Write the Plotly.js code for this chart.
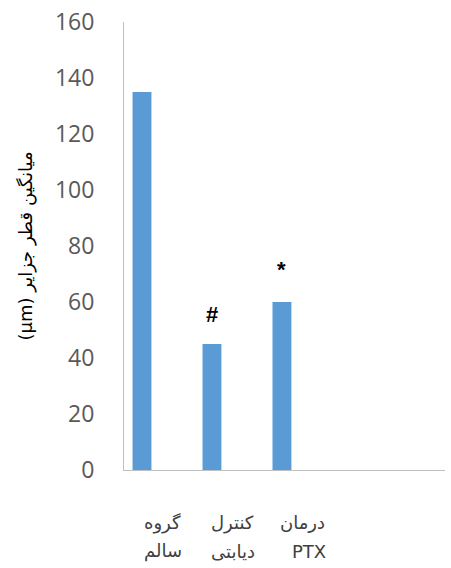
<!DOCTYPE html>
<html><head><meta charset="utf-8">
<script src="https://cdn.plot.ly/plotly-3.0.1.min.js"></script>
<style>html,body{margin:0;padding:0;background:#fff}#chart{width:451px;height:568px}</style>
</head><body><div id="chart"></div>
<script>
const categoryLine1 = ["گروه", "کنترل", "درمان"];
const categoryLine2 = ["سالم", "دیابتی", "PTX"];
const values = [135, 45, 60];
const marks = ["", "#", "*"];
const yTicks = [0, 20, 40, 60, 80, 100, 120, 140, 160];

const idx = values.map((_, i) => i);
const trace = {
  type: "bar", x: idx, y: values, width: 0.27,
  marker: {color: "#5b9bd5"}, hoverinfo: "none"
};
const annotations = [];
marks.forEach((m, i) => {
  if (!m) return;
  annotations.push({
    x: i, y: values[i], text: "<b>" + m + "</b>", showarrow: false,
    yanchor: "bottom", yshift: m === "*" ? 18 : 15,
    font: {family: "Liberation Sans, Arial", size: 22, color: "#000"}
  });
});
const labelFont = {family: "DejaVu Sans, Arial", size: 18, color: "#404040"};
categoryLine1.forEach((t, i) => annotations.push({
  x: i + 0.3, xref: "x", y: -0.118, yref: "paper", text: t, showarrow: false,
  xanchor: "center", yanchor: "middle", font: labelFont
}));
categoryLine2.forEach((t, i) => annotations.push({
  x: i + 0.3 + (i === 2 ? 0.08 : 0), xref: "x", y: -0.181, yref: "paper", text: t, showarrow: false,
  xanchor: "center", yanchor: "middle", font: labelFont
}));

const layout = {
  width: 451, height: 568,
  margin: {l: 124, r: 6, t: 22, b: 98},
  paper_bgcolor: "#fff", plot_bgcolor: "#fff",
  showlegend: false,
  xaxis: {
    range: [-0.257, 4.33], showticklabels: false,
    showgrid: false, zeroline: false, showline: true, linecolor: "#bfbfbf", linewidth: 1,
    ticks: ""
  },
  yaxis: {
    range: [0, 160], tickvals: yTicks, showgrid: false, zeroline: false,
    showline: true, linecolor: "#bfbfbf", linewidth: 1, ticks: "",
    tickfont: {family: "Open Sans, Arial", size: 23, color: "#595959"},
    ticklabelstandoff: 24,
    title: {text: "(μm) میانگین قطر جزایر", standoff: 17,
      font: {family: "DejaVu Sans, Arial", size: 18, color: "#000"}}
  },
  annotations: annotations
};
Plotly.newPlot("chart", [trace], layout, {displayModeBar: false, staticPlot: true});
</script></body></html>
